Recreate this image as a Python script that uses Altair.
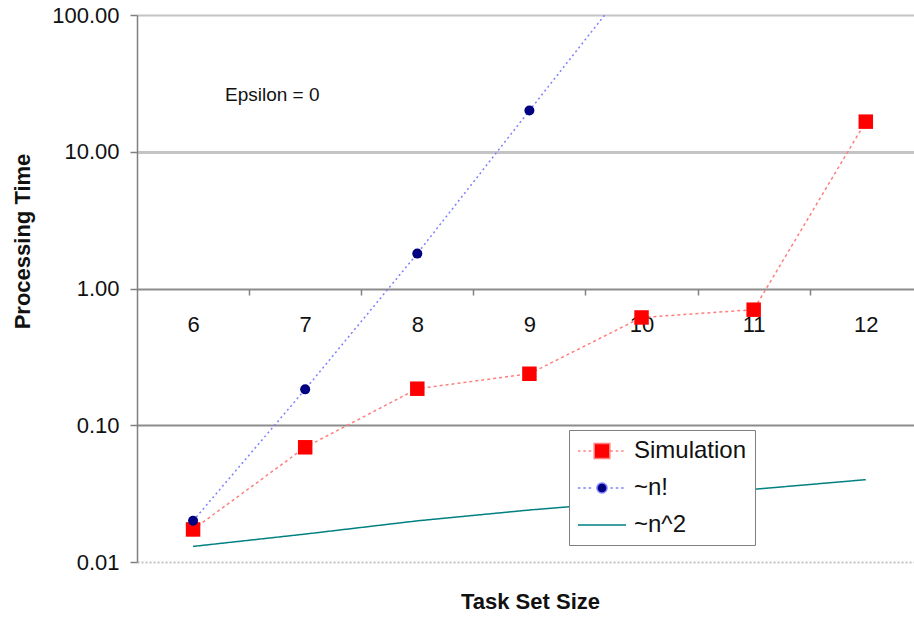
import altair as alt
import pandas as pd

# Processing time (seconds) against task set size, epsilon = 0
task_sizes = [6, 7, 8, 9, 10, 11, 12]
simulation = [0.0173, 0.069, 0.185, 0.238, 0.614, 0.70, 16.6]
factorial = [0.02, 0.183, 1.80, 20.0, 220.0, 2640.0, 34000.0]
quadratic = [0.013, 0.016, 0.020, 0.024, 0.028, 0.034, 0.040]
series_names = ["Simulation", "~n!", "~n^2"]
y_ticks = [0.01, 0.1, 1, 10, 100]

FONT = "Liberation Sans, Arial, sans-serif"
INK = "#111111"

rows = []
for name, vals in zip(series_names, [simulation, factorial, quadratic]):
    for n, v in zip(task_sizes, vals):
        rows.append({"size": n, "time": v, "series": name})
df = pd.DataFrame(rows)

# category boundaries carry the tick marks, category centres carry the labels
x_marks = sorted(task_sizes + [n + 0.5 for n in task_sizes[:-1]])

x_scale = alt.Scale(domain=[5.5, 12.43], nice=False, zero=False)
y_scale = alt.Scale(type="log", domain=[0.01, 100], nice=False)

fill_colors = ["#ff0000", "#000080", "#008080"]
line_colors = ["#ff7f7f", "#7f7fff", "#008080"]


def dotted(x0, x1, skip=None, dash=0.2, gap=0.25):
    """Short dash segments along y=0 in symbol units, optionally skipping a span."""
    parts = []
    x = x0
    while x < x1:
        e = min(x + dash, x1)
        if not (skip and e > skip[0] and x < skip[1]):
            parts.append(f"M{x:.2f},0H{e:.2f}")
        x += dash + gap
    return "".join(parts)


square_sym = dotted(-1, 3, skip=(0.3, 1.7)) + "M0.35,-0.62H1.65V0.62H0.35Z"
circle_sym = (dotted(-1, 3, skip=(0.5, 1.5))
              + "M0.58,0A0.42,0.42,0,1,0,1.42,0A0.42,0.42,0,1,0,0.58,0Z")
line_sym = "M-1,0H3"

fill_scale = alt.Scale(domain=series_names, range=fill_colors)
stroke_scale = alt.Scale(domain=series_names, range=line_colors)
shape_scale = alt.Scale(domain=series_names, range=[square_sym, circle_sym, line_sym])
dash_scale = alt.Scale(domain=series_names, range=[[3, 3], [2, 3], [1, 0]])

x_axis = alt.Axis(
    orient="bottom", offset=-273, domain=False, grid=False,
    values=x_marks,
    tickSize=6, tickColor="#808080", tickWidth=1.5,
    tickOpacity={"condition": {"test": "datum.value % 1 === 0", "value": 0}, "value": 1},
    labelExpr="datum.value % 1 === 0 ? format(datum.value, 'd') : ''",
    labelFontSize=22, labelFont=FONT, labelColor=INK, labelPadding=19,
    labelOverlap=False, labelFlush=False, labelBound=False,
    title="Task Set Size", titleFont=FONT, titleFontSize=22, titleFontWeight="bold",
    titleColor=INK, titleX=393, titleY=312, titleAlign="center", titleBaseline="middle",
)

y_axis = alt.Axis(
    values=y_ticks, format=".2f",
    tickSize=7, tickColor="#808080", tickWidth=1.5,
    domainColor="#808080", domainWidth=1.5,
    labelFontSize=22, labelFont=FONT, labelColor=INK, labelPadding=11,
    grid=True,
    gridColor={"condition": {"test": "datum.value > 0.05 && datum.value < 5", "value": "#8c8c8c"},
               "value": "#c4c4c4"},
    gridWidth={"condition": {"test": "datum.value > 5 && datum.value < 50", "value": 3},
               "value": 2},
    gridDash={"condition": {"test": "datum.value < 0.05", "value": [2, 2]}, "value": []},
    title="Processing Time", titleFont=FONT, titleFontSize=22, titleFontWeight="bold",
    titleColor=INK, titleX=-115, titleY=226, titleAlign="center", titleBaseline="middle",
)

base = alt.Chart(df).encode(
    x=alt.X("size:Q", scale=x_scale, axis=x_axis),
    y=alt.Y("time:Q", scale=y_scale, axis=y_axis),
)

lines = base.mark_line(clip=True, strokeWidth=1.5).encode(
    stroke=alt.Stroke("series:N", scale=stroke_scale, legend=None),
    strokeDash=alt.StrokeDash("series:N", scale=dash_scale, legend=None),
    strokeWidth=alt.StrokeWidth("series:N",
                                scale=alt.Scale(domain=series_names, range=[1.5, 1.5, 2.5]),
                                legend=None),
)

squares = base.transform_filter(alt.datum.series == "Simulation").mark_point(
    filled=True, shape="square", size=210, opacity=1, clip=True
).encode(fill=alt.Fill("series:N", scale=fill_scale, legend=None))

dots = base.transform_filter(alt.datum.series == "~n!").mark_point(
    filled=True, shape="circle", size=100, opacity=1, clip=True
).encode(fill=alt.Fill("series:N", scale=fill_scale, legend=None))

note = alt.Chart(pd.DataFrame({"note": ["Epsilon = 0"]})).mark_text(
    align="left", baseline="middle", font=FONT, fontSize=19, color=INK
).encode(x=alt.value(88), y=alt.value(80), text="note:N")

legend_def = alt.Legend(
    title=None, orient="none", legendX=432, legendY=415,
    fillColor="white", strokeColor="#808080", padding=8,
    labelFont=FONT, labelFontSize=24, labelColor=INK, labelOffset=31, labelLimit=400,
    symbolSize=576, symbolStrokeWidth=1.5, symbolOpacity=1, rowPadding=12,
)

# key entries only: the symbols themselves sit outside the clipped plot area
legend_layer = alt.Chart(pd.DataFrame({"series": series_names})).mark_point(
    filled=True, clip=True, strokeWidth=1.5, opacity=1
).encode(
    x=alt.value(-2000),
    y=alt.value(-2000),
    fill=alt.Fill("series:N", scale=fill_scale, legend=legend_def),
    stroke=alt.Stroke("series:N", scale=stroke_scale, legend=legend_def),
    shape=alt.Shape("series:N", scale=shape_scale, legend=legend_def),
)

chart = alt.layer(lines, squares, dots, note, legend_layer).resolve_legend(
    fill="independent", stroke="independent", shape="independent"
).properties(
    width=777, height=547,
    autosize=alt.AutoSizeParams(type="none"),
    padding={"left": 137, "top": 15, "right": 0, "bottom": 55},
    background="white",
).configure_view(stroke=None)

chart.save("out.html", embed_options={"renderer": "svg", "actions": False})
